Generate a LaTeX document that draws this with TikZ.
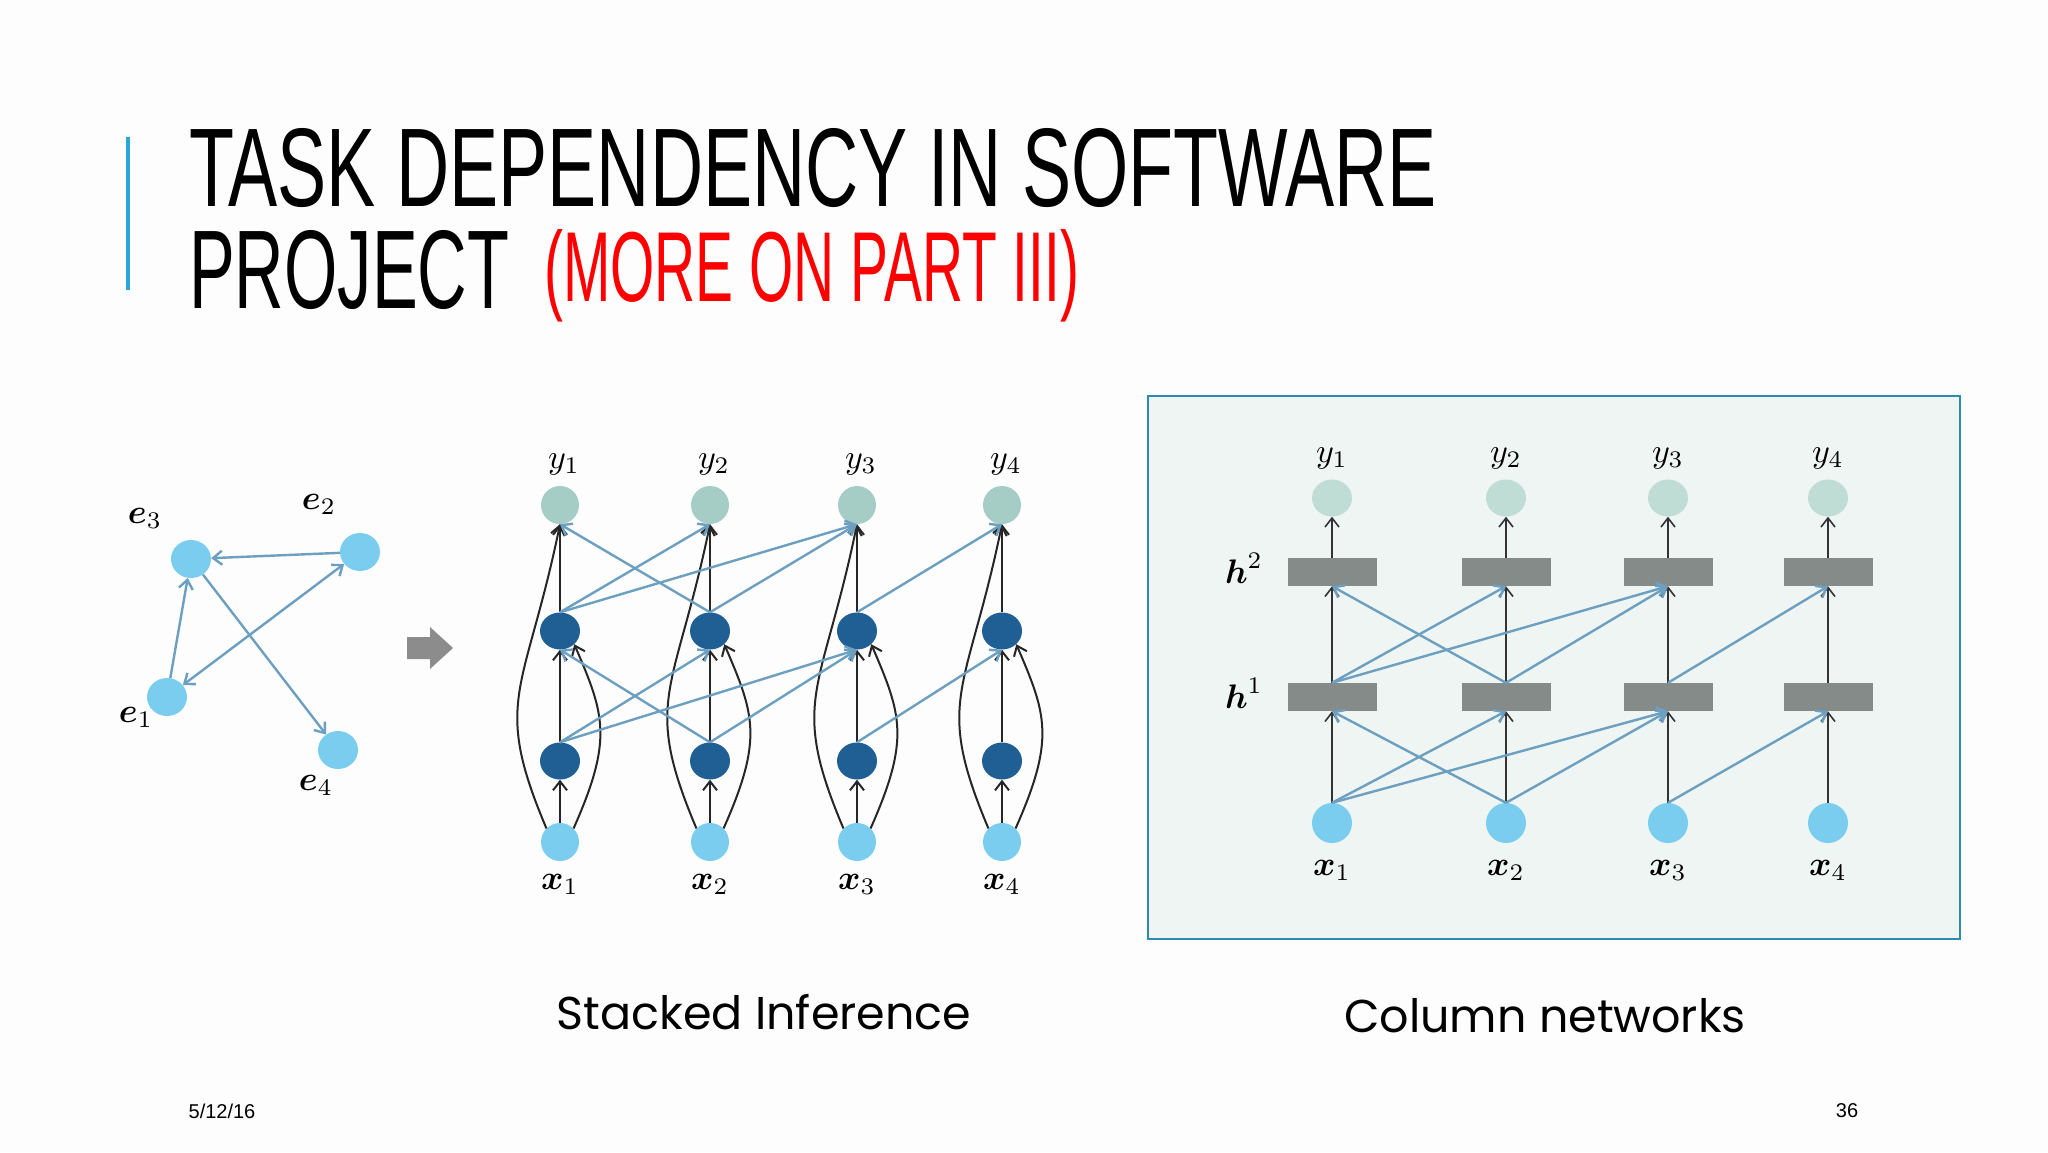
\documentclass[tikz,border=0pt]{standalone}
\usepackage{fontspec}
\usepackage{amsmath}
\setmainfont{Liberation Sans}
\newfontfamily\capfont{Poppins}
\usetikzlibrary{arrows.meta,shapes.geometric}
\definecolor{bgc}{HTML}{FDFDFD}
\definecolor{barblue}{HTML}{2AA7D6}
\definecolor{nodeblue}{HTML}{7ACDEE}
\definecolor{ygreen}{HTML}{A6CCC6}
\definecolor{hdark}{HTML}{1F5F94}
\definecolor{edgeblue}{HTML}{6C9FC0}
\definecolor{boxfill}{HTML}{EEF5F3}
\definecolor{boxline}{HTML}{2E8BB0}
\definecolor{rectgray}{HTML}{858B88}
\definecolor{ylight}{HTML}{BFDCD5}
\newcommand{\bigmath}[1]{\scalebox{3.4}{$#1$}}
\tikzset{
  x=1pt,y=1pt,
  dot/.style={circle,inner sep=0,minimum size=40pt},
  enode/.style={ellipse,inner sep=0,fill=nodeblue,minimum width=40pt,minimum height=38pt},
  ynode/.style={dot,fill=ygreen,minimum size=38pt},
  hnode/.style={ellipse,inner sep=0,fill=hdark,minimum width=40pt,minimum height=37pt},
  xnode/.style={dot,fill=nodeblue,minimum size=38pt},
  cy/.style={ellipse,inner sep=0,fill=ylight,minimum width=40pt,minimum height=37pt},
  cx/.style={ellipse,inner sep=0,fill=nodeblue,minimum width=40pt,minimum height=40pt},
  hrect/.style={rectangle,inner sep=0,fill=rectgray,minimum width=89pt,minimum height=28pt},
  blk/.style={draw=black!85,line width=2pt,-{Straight Barb[length=9pt,width=14pt]}},
  thinblk/.style={draw=black!80,line width=1.6pt,-{Straight Barb[length=9pt,width=14pt]}},
  blu/.style={draw=edgeblue,line width=2.4pt,-{Straight Barb[length=9pt,width=14pt]}},
  lab/.style={inner sep=0},
  capt/.style={inner sep=0,font=\capfont\fontsize{46}{52}\selectfont},
}
\begin{document}
\begin{tikzpicture}
\fill[bgc] (0,0) rectangle (2048,-1152);
\useasboundingbox (0,0) rectangle (2048,-1152);
% title
\fill[barblue] (126,-137) rectangle (130,-290);
\node[anchor=base west,inner sep=0] (t1) at (189,-206) {\resizebox{1247pt}{78pt}{TASK DEPENDENCY IN SOFTWARE}};
\node[anchor=base west,inner sep=0] (t2) at (189,-308) {\resizebox{320pt}{78pt}{PROJECT}};
\node[anchor=south west,inner sep=0,text=red] (t3) at (544,-322) {\resizebox{535pt}{72pt}{(MORE ON PART III)}};
% left graph
\node[enode] (e3) at (191,-559) {};
\node[enode] (e2) at (360,-552) {};
\node[enode] (e1) at (167,-697) {};
\node[enode] (e4) at (338,-750) {};
\node[lab] at (145,-518) {\bigmath{\boldsymbol{e}_3}};
\node[lab] at (319,-504) {\bigmath{\boldsymbol{e}_2}};
\node[lab] at (136,-717) {\bigmath{\boldsymbol{e}_1}};
\node[lab] at (316,-785) {\bigmath{\boldsymbol{e}_4}};
\draw[blu] (e2) -- (e3);
\draw[blu] (e1) -- (e3);
\draw[blu,{Straight Barb[length=9pt,width=14pt]}-{Straight Barb[length=9pt,width=14pt]}] (e1) -- (e2);
\draw[blu] (e3) -- (e4);
% block arrow
\fill[gray!90] (407,-637) -- (430,-637) -- (430,-627) -- (453,-648) -- (430,-669) -- (430,-659) -- (407,-659) -- cycle;
% stacked inference
\foreach \i/\xx in {1/560,2/710,3/857,4/1002}{
  \node[ynode] (sy\i) at (\xx,-505) {};
  \node[hnode] (sb\i) at (\xx,-631) {};
  \node[hnode] (sa\i) at (\xx,-761) {};
  \node[xnode] (sx\i) at (\xx,-842) {};
  \node[lab] at (\xx+4,-464) {\bigmath{y_{\i}}};
  \node[lab] at (\xx,-884) {\bigmath{\boldsymbol{x}_{\i}}};
  \draw[blk] (sx\i) -- (sa\i);
  \draw[blk] (sa\i) -- (sb\i);
  \draw[blk] (sb\i) -- (sy\i);
  \draw[blk] (sx\i.135) .. controls +(-55,130) and +(-35,-170) .. (sy\i.south);
  \draw[blk] (sx\i.45) .. controls +(40,90) and +(30,-70) .. (sb\i.south east);
}
\foreach \a/\b in {1/2,1/3,2/1,2/3,3/4}{
  \draw[blu] (sa\a.north) -- (sb\b.south);
  \draw[blu] (sb\a.north) -- (sy\b.south);
}
\node[capt] (c1) at (764,-1012) {Stacked Inference};
% column networks
\draw[boxline,fill=boxfill,line width=2pt] (1148,-396) rectangle (1960,-939);
\foreach \i/\xx in {1/1332,2/1506,3/1668,4/1828}{
  \node[cy] (cy\i) at (\xx,-498) {};
  \node[hrect] (cb\i) at (\xx,-572) {};
  \node[hrect] (ca\i) at (\xx,-697) {};
  \node[cx] (cx\i) at (\xx,-823) {};
  \node[lab] at (\xx,-458) {\bigmath{y_{\i}}};
  \node[lab] at (\xx,-870) {\bigmath{\boldsymbol{x}_{\i}}};
  \draw[thinblk] (cx\i) -- (ca\i);
  \draw[thinblk] (ca\i) -- (cb\i);
  \draw[thinblk] (cb\i) -- (cy\i);
}
\node[lab] at (1244,-568) {\bigmath{\boldsymbol{h}^2}};
\node[lab] at (1244,-693) {\bigmath{\boldsymbol{h}^1}};
\foreach \a/\b in {1/2,1/3,2/1,2/3,3/4}{
  \draw[blu] (cx\a.north) -- (ca\b.south);
  \draw[blu] (ca\a.north) -- (cb\b.south);
}
\node[capt] (c2) at (1545,-1016) {Column networks};
% footer
\node[inner sep=0,font=\fontsize{20}{24}\selectfont] (d) at (222,-1111) {5/12/16};
\node[inner sep=0,font=\fontsize{20}{24}\selectfont] (p) at (1847,-1111) {36};
\end{tikzpicture}
\end{document}
